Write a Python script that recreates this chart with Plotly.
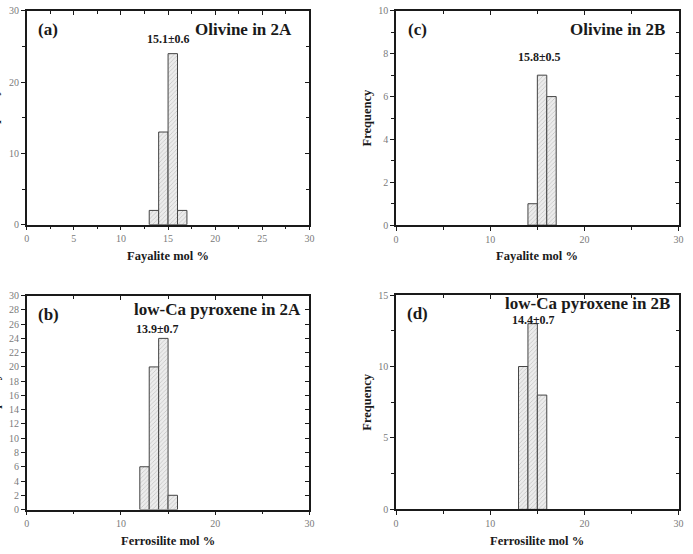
import plotly.graph_objects as go

W, H = 693, 554

# ---- data ----
a_bin_start = [13, 14, 15, 16]
a_counts = [2, 13, 24, 2]
c_bin_start = [14, 15, 16]
c_counts = [1, 7, 6]
b_bin_start = [12, 13, 14, 15]
b_counts = [6, 20, 24, 2]
d_bin_start = [13, 14, 15]
d_counts = [10, 13, 8]

panels = [
    dict(starts=a_bin_start, counts=a_counts, ax="", ymax=30, ydt=10, ymn=5, xdt=5, xmn=2.5,
         label="(a)", title="Olivine in 2A", stat="15.1±0.6", xtitle="Fayalite mol %",
         stat_xy=(15.0, 26.0), title_dx=16, title_dy=19, ytitle_dx=33),
    dict(starts=c_bin_start, counts=c_counts, ax="2", ymax=10, ydt=2, ymn=1, xdt=10, xmn=5,
         label="(c)", title="Olivine in 2B", stat="15.8±0.5", xtitle="Fayalite mol %",
         stat_xy=(15.2, 7.85), title_dx=11.5, title_dy=19, ytitle_dx=29),
    dict(starts=b_bin_start, counts=b_counts, ax="3", ymax=30, ydt=2, ymn=None, xdt=10, xmn=5,
         label="(b)", title="low-Ca pyroxene in 2A", stat="13.9±0.7", xtitle="Ferrosilite mol %",
         stat_xy=(13.9, 25.3), title_dx=7, title_dy=14.5, ytitle_dx=33),
    dict(starts=d_bin_start, counts=d_counts, ax="4", ymax=15, ydt=5, ymn=2.5, xdt=10, xmn=5,
         label="(d)", title="low-Ca pyroxene in 2B", stat="14.4±0.7", xtitle="Ferrosilite mol %",
         stat_xy=(14.55, 13.28), title_dx=6.5, title_dy=8.5, ytitle_dx=29),
]

# plot boxes in pixels: (left, right, top, bottom)
boxes = [(24, 310, 5, 223.5), (397.7, 683.5, 5, 224), (24, 310, 296, 514.7), (397.7, 683.5, 295.5, 514.5)]

FONT = "Liberation Serif, Times New Roman, serif"
INK = "#1a1a1a"


def px(x):
    return x / W


def py(y):
    return 1 - y / H


fig = go.Figure()
layout = dict(width=W, height=H, margin=dict(l=0, r=0, t=0, b=0),
              paper_bgcolor="white", plot_bgcolor="white", showlegend=False,
              font=dict(family=FONT))
annotations = []

for i, (p, box) in enumerate(zip(panels, boxes)):
    l, r, t, b = box
    centers = [s + 0.5 for s in p["starts"]]
    xid, yid = "x" + p["ax"], "y" + p["ax"]
    fig.add_trace(go.Bar(
        x=centers, y=p["counts"], width=1,
        xaxis=xid, yaxis=yid,
        marker=dict(color="#e6e6e6",
                    line=dict(color="#444", width=1),
                    pattern=dict(shape="/", fgcolor="#9a9a9a", bgcolor="#ececec", size=3, solidity=0.25)),
    ))
    base = dict(showgrid=False, zeroline=False, tickcolor=INK, tickwidth=1.2,
                tickfont=dict(family=FONT, size=10, color="#7a7a7a"))
    xdict = dict(base, domain=[px(l), px(r)], range=[0, 30], dtick=p["xdt"], tick0=0, anchor=yid,
                 showline=True, mirror=True, linecolor=INK, linewidth=1.6,
                 ticks="outside", ticklen=4,
                 minor=dict(ticks="outside", dtick=p["xmn"], ticklen=3, tickcolor=INK, showgrid=False))
    ydict = dict(base, domain=[py(b), py(t)], range=[0, p["ymax"]], dtick=p["ydt"], tick0=0, anchor=xid,
                 showline=True, mirror=True, linecolor=INK, linewidth=1.6,
                 ticks="outside", ticklen=4)
    if p["ymn"]:
        ydict["minor"] = dict(ticks="outside", dtick=p["ymn"], ticklen=3, tickcolor=INK, showgrid=False)
    layout["xaxis" + p["ax"]] = xdict
    layout["yaxis" + p["ax"]] = ydict

    # overlay axes for the inward ticks on the top and right edges
    ox, oy = str(5 + i), str(5 + i)
    layout["xaxis" + ox] = dict(base, overlaying=xid, side="top", anchor=yid, range=[0, 30],
                                dtick=p["xdt"], tick0=0, showline=False, showticklabels=False,
                                ticks="inside", ticklen=4,
                                minor=dict(ticks="inside", dtick=p["xmn"], ticklen=3, tickcolor=INK, showgrid=False))
    ydict2 = dict(base, overlaying=yid, side="right", anchor=xid, range=[0, p["ymax"]],
                  dtick=p["ydt"], tick0=0, showline=False, showticklabels=False,
                  ticks="inside", ticklen=4)
    if p["ymn"]:
        ydict2["minor"] = dict(ticks="inside", dtick=p["ymn"], ticklen=3, tickcolor=INK, showgrid=False)
    layout["yaxis" + oy] = ydict2
    fig.add_trace(go.Scatter(x=[None], y=[None], xaxis="x" + ox, yaxis="y" + oy,
                             mode="markers", hoverinfo="skip", showlegend=False))

    # texts
    annotations.append(dict(x=px(l + 22), y=py(t + 19), xref="paper", yref="paper", text="<b>" + p["label"] + "</b>",
                            showarrow=False, font=dict(family=FONT, size=17, color=INK),
                            xanchor="center", yanchor="middle"))
    annotations.append(dict(x=px(r - p["title_dx"]), y=py(t + p["title_dy"]), xref="paper", yref="paper",
                            text="<b>" + p["title"] + "</b>", showarrow=False,
                            font=dict(family=FONT, size=17, color=INK), xanchor="right", yanchor="middle"))
    annotations.append(dict(x=px((l + r) / 2), y=py(b + 32), xref="paper", yref="paper",
                            text="<b>" + p["xtitle"] + "</b>", showarrow=False,
                            font=dict(family=FONT, size=12.5, color=INK), xanchor="center", yanchor="middle"))
    annotations.append(dict(x=px(l - p["ytitle_dx"]), y=py((t + b) / 2), xref="paper", yref="paper",
                            text="<b>Frequency</b>", showarrow=False, textangle=-90,
                            font=dict(family=FONT, size=12.5, color=INK), xanchor="center", yanchor="middle"))
    sx, sy = p["stat_xy"]
    annotations.append(dict(x=sx, y=sy, xref=xid, yref=yid,
                            text="<b>" + p["stat"] + "</b>", showarrow=False,
                            font=dict(family=FONT, size=12, color=INK), xanchor="center", yanchor="middle"))

layout["annotations"] = annotations
fig.update_layout(**layout)
fig.write_html("out.html")
